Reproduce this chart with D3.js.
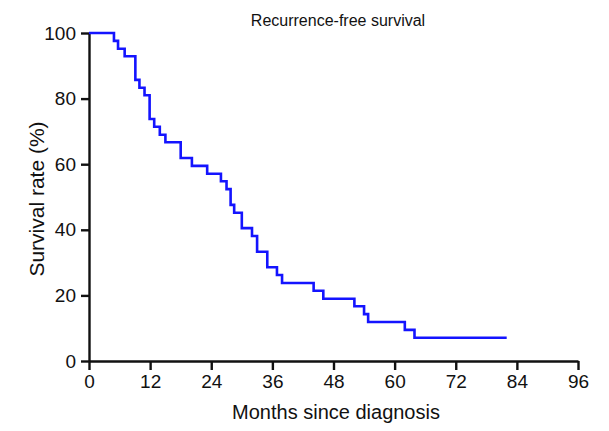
<!DOCTYPE html>
<html>
<head>
<meta charset="utf-8">
<script src="https://cdn.jsdelivr.net/npm/d3@7"></script>
<style>
  html, body { margin: 0; padding: 0; background: #fff; }
  svg { display: block; }
  text { font-family: "Liberation Sans", Arial, Helvetica, sans-serif; fill: #111; }
</style>
</head>
<body>
<svg id="chart" width="609" height="431"></svg>
<script>
// Kaplan-Meier step data (months, survival %)
const months = [0, 4.9, 5.7, 7.0, 9.1, 9.9, 10.9, 11.9, 12.8, 13.9, 15.0, 18.0, 20.2, 23.2, 25.9, 27.0, 27.8, 28.5, 30.0, 32.0, 33.0, 35.0, 36.9, 37.9, 44.1, 46.0, 52.1, 54.0, 54.8, 62.0, 63.9, 82.0];
const survival = [100, 97.6, 95.2, 92.9, 85.7, 83.3, 81.0, 73.8, 71.4, 69.0, 66.7, 61.9, 59.5, 57.1, 54.8, 52.4, 47.6, 45.2, 40.5, 38.1, 33.3, 28.6, 26.2, 23.8, 21.4, 19.0, 16.7, 14.3, 11.9, 9.5, 7.1, 7.1];
const xTicks = [0, 12, 24, 36, 48, 60, 72, 84, 96];
const yTicks = [0, 20, 40, 60, 80, 100];
const title = "Recurrence-free survival";
const xLabel = "Months since diagnosis";
const yLabel = "Survival rate (%)";

const svg = d3.select("#chart");
const mLeft = 89, mRight = 578, mTop = 33, mBottom = 361;

const x = d3.scaleLinear().domain([0, 96]).range([mLeft, mRight]);
const y = d3.scaleLinear().domain([0, 100]).range([mBottom, mTop]);

const data = months.map((m, i) => ({ m, s: survival[i] }));

// Axes
const xAxis = svg.append("g")
  .attr("transform", `translate(0,${mBottom})`)
  .call(d3.axisBottom(x).tickValues(xTicks).tickFormat(d3.format("d")).tickSize(9).tickSizeOuter(0).tickPadding(5));
const yAxis = svg.append("g")
  .attr("transform", `translate(${mLeft},0)`)
  .call(d3.axisLeft(y).tickValues(yTicks).tickFormat(d3.format("d")).tickSize(8).tickSizeOuter(0).tickPadding(5));

[xAxis, yAxis].forEach(g => {
  g.select(".domain").attr("stroke", "#111").attr("stroke-width", 2.4);
  g.selectAll(".tick line").attr("stroke", "#111").attr("stroke-width", 2.4);
  g.selectAll(".tick text").style("font-size", "19px").attr("fill", "#111");
});

// Survival curve
const line = d3.line()
  .x(d => x(d.m))
  .y(d => y(d.s))
  .curve(d3.curveStepAfter);

svg.append("path")
  .datum(data)
  .attr("d", line)
  .attr("fill", "none")
  .attr("stroke", "#1414ff")
  .attr("stroke-width", 2.6)
  .attr("stroke-linejoin", "miter");

// Texts
svg.append("text")
  .attr("x", 338)
  .attr("y", 26)
  .attr("text-anchor", "middle")
  .style("font-size", "16px")
  .text(title);

svg.append("text")
  .attr("x", 336)
  .attr("y", 419)
  .attr("text-anchor", "middle")
  .style("font-size", "20px")
  .text(xLabel);

svg.append("text")
  .attr("transform", `translate(44,${(mTop + mBottom) / 2 + 2}) rotate(-90)`)
  .attr("text-anchor", "middle")
  .style("font-size", "21px")
  .text(yLabel);
</script>
</body>
</html>
